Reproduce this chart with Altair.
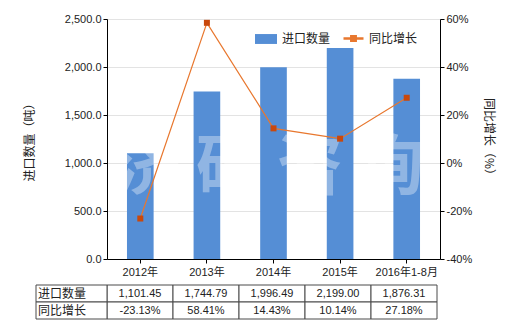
import altair as alt
import pandas as pd

# ---- data ----
categories = ["2012年", "2013年", "2014年", "2015年", "2016年1-8月"]
quantity = [1101.45, 1744.79, 1996.49, 2199.00, 1876.31]
growth = [-23.13, 58.41, 14.43, 10.14, 27.18]
row_labels = ["进口数量", "同比增长"]
qty_ticks = [0, 500, 1000, 1500, 2000, 2500]
pct_ticks = [-40, -20, 0, 20, 40, 60]
watermark = "济 研 咨 询"

FONT = "Liberation Sans, Noto Sans CJK SC"
CJK = "Noto Sans CJK SC, Liberation Sans"
BLUE = "#558ED5"
ORANGE = "#E8772E"
MARKER = "#C9480C"
INK = "#222222"

W, H = 333, 240

df = pd.DataFrame({
    "cat": categories,
    "qty": quantity,
    "pct": growth,
    "s1": row_labels[0],
    "s2": row_labels[1],
})

x_enc = alt.X(
    "cat:N", sort=categories,
    scale=alt.Scale(paddingInner=0.6, paddingOuter=0.3),
    axis=alt.Axis(title=None, labelAngle=0, labelFont=FONT, labelFontSize=11,
                  labelColor=INK, domainColor="#000000", tickColor="#000000",
                  tickSize=4, labelPadding=3),
)

bars = alt.Chart(df).mark_bar().encode(
    x=x_enc,
    y=alt.Y("qty:Q", scale=alt.Scale(domain=[0, 2500], nice=False),
            axis=alt.Axis(orient="left", values=qty_ticks, format=",.1f",
                          title="进口数量（吨）", titleFont=CJK, titleFontSize=12,
                          titleFontWeight="normal", titleColor=INK, titlePadding=28,
                          labelFont=FONT, labelFontSize=11, labelColor=INK,
                          grid=True, gridColor="#E3E3E3", domainColor="#000000",
                          tickColor="#000000", tickSize=4)),
    fill=alt.Fill("s1:N", scale=alt.Scale(domain=[row_labels[0]], range=[BLUE]),
                  legend=alt.Legend(orient="none", legendX=147, legendY=8, title=None,
                                    symbolType="M-1,-0.45H1V0.45H-1Z", symbolSize=484,
                                    labelFont=CJK, labelFontSize=12, labelColor=INK)),
)

mark_wm = alt.Chart(pd.DataFrame({"t": [watermark]})).mark_text(
    font=CJK, fontSize=66, fontWeight="bold", color="#FFFFFF", opacity=0.35,
).encode(text="t:N", x=alt.value(W / 2 - 4), y=alt.value(150))

y_pct = alt.Y("pct:Q", scale=alt.Scale(domain=[-40, 60], nice=False),
              axis=alt.Axis(orient="right", values=pct_ticks,
                            labelExpr="datum.value + '%'",
                            title="同比增长（%）", titleFont=CJK, titleFontSize=12,
                            titleFontWeight="normal", titleColor=INK, titleAngle=90,
                            titlePadding=10,
                            labelFont=FONT, labelFontSize=11, labelColor=INK,
                            grid=False, domainColor="#000000", tickColor="#000000",
                            tickSize=4))

line = alt.Chart(df).mark_line(strokeWidth=1.2).encode(
    x=alt.X("cat:N", sort=categories),
    y=y_pct,
    stroke=alt.Stroke("s2:N", scale=alt.Scale(domain=[row_labels[1]], range=[ORANGE]),
                      legend=alt.Legend(orient="none", legendX=235, legendY=8, title=None,
                                        symbolType="M-1,0H1M-0.22,-0.22H0.22V0.22H-0.22Z",
                                        symbolSize=400, symbolStrokeWidth=2.5,
                                        symbolFillColor=MARKER,
                                        labelFont=CJK, labelFontSize=12, labelColor=INK)),
)
points = alt.Chart(df).mark_point(shape="square", filled=True, size=36,
                                  color=MARKER, opacity=1).encode(
    x=alt.X("cat:N", sort=categories),
    y=y_pct,
)

upper = alt.layer(bars, mark_wm, alt.layer(line, points)).resolve_scale(
    y="independent", fill="independent", stroke="independent")

# ---- table ----
fmt_qty = [f"{v:,.2f}" for v in quantity]
fmt_pct = [f"{v:.2f}%" for v in growth]
cells = pd.DataFrame({
    "col": categories * 2,
    "row": [row_labels[0]] * len(categories) + [row_labels[1]] * len(categories),
    "label": fmt_qty + fmt_pct,
})
heads = pd.DataFrame({"col": ["h", "h"], "row": row_labels, "label": row_labels})

row_scale = alt.Scale(domain=row_labels, range=[266, 300], paddingInner=0, paddingOuter=0)
STROKE = "#4A4A4A"

tx = alt.X("col:N", scale=alt.Scale(domain=categories, range=[0, 330],
                                    paddingInner=0, paddingOuter=0), axis=None)
ty = alt.Y("row:N", scale=row_scale, axis=None)
table_data = alt.layer(
    alt.Chart(cells).mark_rect(fill="white", stroke=STROKE, strokeWidth=1).encode(x=tx, y=ty),
    alt.Chart(cells).mark_text(font=FONT, fontSize=11, color=INK).encode(x=tx, y=ty, text="label:N"),
)

hx = alt.X("col:N", scale=alt.Scale(domain=["h"], range=[-71, 0],
                                    paddingInner=0, paddingOuter=0), axis=None)
hx_text = alt.X("col:N", scale=alt.Scale(domain=["h"], range=[-71, 0],
                                         paddingInner=0, paddingOuter=0),
                axis=None, bandPosition=0)
table_head = alt.layer(
    alt.Chart(heads).mark_rect(fill="white", stroke=STROKE, strokeWidth=1).encode(x=hx, y=ty),
    alt.Chart(heads).mark_text(font=CJK, fontSize=12, color=INK, align="left", dx=2).encode(
        x=hx_text, y=ty, text="label:N"),
)

chart = alt.layer(upper, table_data, table_head).resolve_scale(
    x="independent", y="independent"
).properties(
    width=W, height=H,
    autosize=alt.AutoSizeParams(type="none"),
    padding={"left": 107, "top": 19, "right": 80, "bottom": 71},
).configure_view(stroke=None).configure(background="white")

chart.save("out.html", embed_options={"renderer": "svg", "actions": False})
